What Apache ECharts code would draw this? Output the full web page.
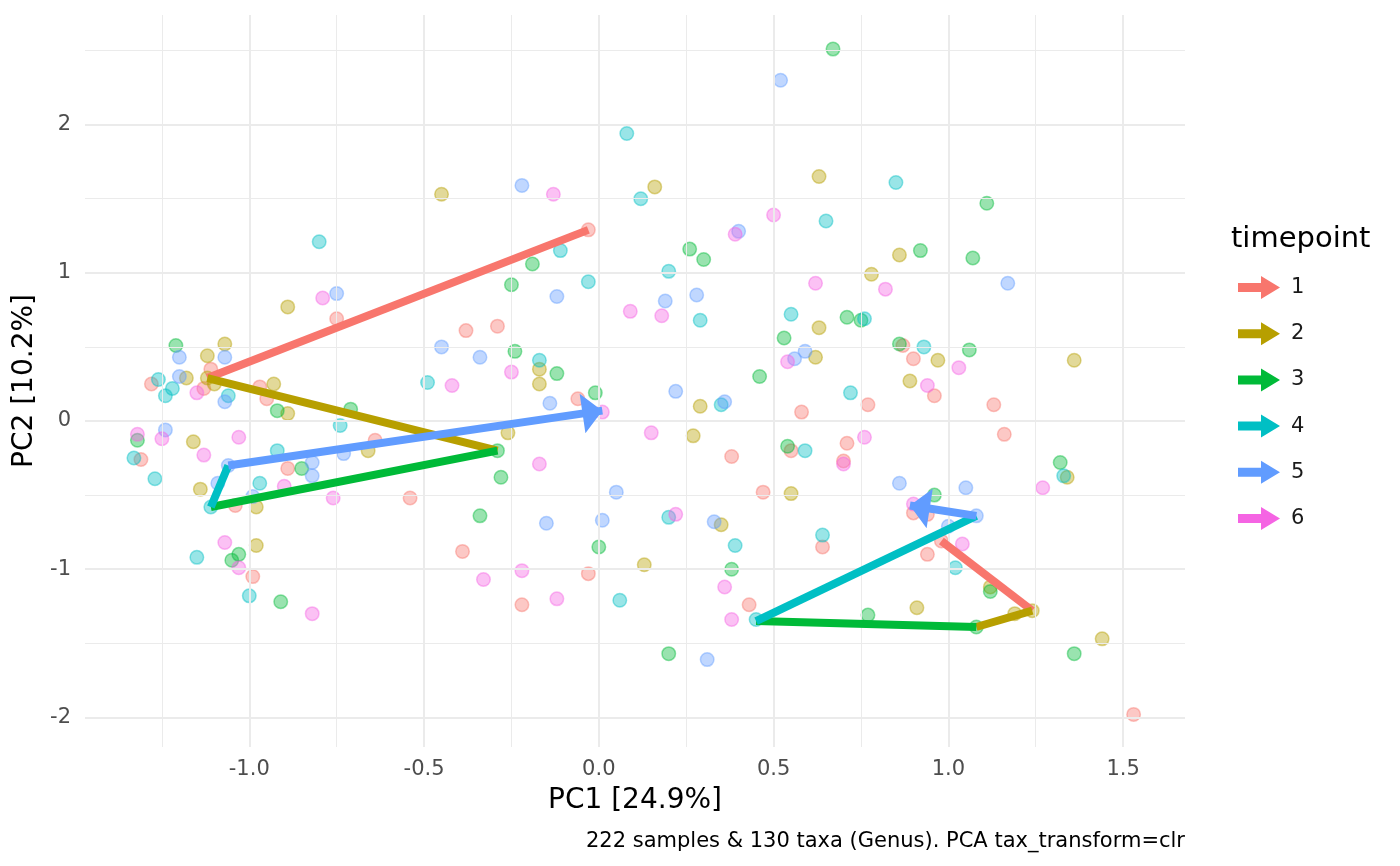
<!DOCTYPE html>
<html>
<head>
<meta charset="utf-8">
<title>PCA timepoint</title>
<script src="https://cdn.jsdelivr.net/npm/echarts@6/dist/echarts.min.js"></script>
<style>
  html, body { margin: 0; padding: 0; background: #fff; }
  #chart { width: 1400px; height: 866px; }
</style>
</head>
<body>
<div id="chart"></div>
<script>
// timepoint colours (ggplot hue palette)
const timepoints = ['1', '2', '3', '4', '5', '6'];
const colors = ['#F8766D', '#B79F00', '#00BA38', '#00BFC4', '#619CFF', '#F564E3'];

// sample scores, one pair of arrays per timepoint
const redX = [-0.75, -1.11, -1.28, -1.13, -0.97, -0.95, -1.31, -0.64, -0.89, -0.54, -1.04, -0.99, -0.03, -0.38, -0.29, -0.06, 0.38, -0.39, -0.03, -0.22, 0.43, 0.87, 0.90, 0.96, 1.13, 0.58, 0.77, 1.16, 0.55, 0.71, 0.70, 0.47, 0.90, 0.94, 0.64, 0.98, 0.94, 1.53];
const redY = [0.69, 0.35, 0.25, 0.22, 0.23, 0.15, -0.26, -0.13, -0.32, -0.52, -0.57, -1.05, 1.29, 0.61, 0.64, 0.15, -0.24, -0.88, -1.03, -1.24, -1.24, 0.51, 0.42, 0.17, 0.11, 0.06, 0.11, -0.09, -0.20, -0.15, -0.27, -0.48, -0.62, -0.63, -0.85, -0.81, -0.90, -1.98];
const oliveX = [-0.89, -1.07, -1.12, -1.18, -1.12, -1.10, -0.93, -0.89, -1.16, -0.66, -1.14, -0.98, -0.98, -0.45, 0.16, -0.17, -0.17, -0.26, 0.29, 0.27, 0.35, 0.13, 0.63, 0.86, 0.78, 0.63, 0.62, 0.97, 0.89, 0.55, 1.36, 1.34, 0.91, 1.12, 1.19, 1.24, 1.44];
const oliveY = [0.77, 0.52, 0.44, 0.29, 0.29, 0.25, 0.25, 0.05, -0.14, -0.20, -0.46, -0.58, -0.84, 1.53, 1.58, 0.35, 0.25, -0.08, 0.10, -0.10, -0.70, -0.97, 1.65, 1.12, 0.99, 0.63, 0.43, 0.41, 0.27, -0.49, 0.41, -0.38, -1.26, -1.12, -1.30, -1.28, -1.47];
const greenX = [-1.21, -0.92, -0.71, -1.32, -0.85, -1.03, -1.05, -0.91, -0.19, -0.25, -0.24, -0.12, -0.01, -0.29, -0.28, -0.34, 0.00, 0.38, 0.67, 1.11, 0.26, 0.30, 0.92, 1.07, 0.71, 0.75, 0.53, 0.86, 1.06, 0.46, 0.54, 0.96, 1.12, 1.08, 0.77, 0.20, 1.32, 1.36];
const greenY = [0.51, 0.07, 0.08, -0.13, -0.32, -0.90, -0.94, -1.22, 1.06, 0.92, 0.47, 0.32, 0.19, -0.20, -0.38, -0.64, -0.85, -1.00, 2.51, 1.47, 1.16, 1.09, 1.15, 1.10, 0.70, 0.68, 0.56, 0.52, 0.48, 0.30, -0.17, -0.50, -1.15, -1.39, -1.31, -1.57, -0.28, -1.57];
const tealX = [-1.26, -1.22, -1.24, -1.06, -0.49, -0.74, -1.33, -1.27, -0.92, -0.97, -1.11, -1.15, -1.00, -0.80, -0.11, -0.03, -0.17, 0.12, 0.20, 0.08, 0.35, 0.20, 0.39, 0.06, 0.85, 0.65, 0.29, 0.55, 0.76, 0.93, 0.72, 0.59, 0.64, 1.02, 0.45, 1.33];
const tealY = [0.28, 0.22, 0.17, 0.17, 0.26, -0.03, -0.25, -0.39, -0.20, -0.42, -0.58, -0.92, -1.18, 1.21, 1.15, 0.94, 0.41, 1.50, 1.01, 1.94, 0.11, -0.65, -0.84, -1.21, 1.61, 1.35, 0.68, 0.72, 0.69, 0.50, 0.19, -0.20, -0.77, -0.99, -1.34, -0.37];
const blueX = [-0.75, -0.45, -1.20, -1.07, -1.20, -1.07, -1.24, -0.73, -1.06, -0.82, -0.82, -1.09, -0.99, -0.22, -0.12, -0.34, 0.19, -0.14, 0.22, 0.36, 0.05, -0.15, 0.01, 0.33, 0.40, 0.28, 1.17, 0.59, 0.56, 0.86, 1.05, 1.08, 1.00, 0.52, 0.31];
const blueY = [0.86, 0.50, 0.43, 0.43, 0.30, 0.13, -0.06, -0.22, -0.30, -0.28, -0.37, -0.42, -0.51, 1.59, 0.84, 0.43, 0.81, 0.12, 0.20, 0.13, -0.48, -0.69, -0.67, -0.68, 1.28, 0.85, 0.93, 0.47, 0.42, -0.42, -0.45, -0.64, -0.71, 2.30, -1.61];
const pinkX = [-0.79, -1.15, -0.42, -1.32, -1.25, -1.03, -1.13, -0.90, -0.76, -1.07, -1.03, -0.82, -0.13, -0.25, 0.09, 0.18, 0.01, 0.15, -0.17, 0.22, -0.33, -0.22, -0.12, 0.36, 0.38, 0.50, 0.39, 0.62, 0.82, 0.54, 1.03, 0.94, 0.76, 0.70, 0.90, 1.04, 1.27];
const pinkY = [0.83, 0.19, 0.24, -0.09, -0.12, -0.11, -0.23, -0.44, -0.52, -0.82, -0.99, -1.30, 1.53, 0.33, 0.74, 0.71, 0.06, -0.08, -0.29, -0.63, -1.07, -1.01, -1.20, -1.12, -1.34, 1.39, 1.26, 0.93, 0.89, 0.40, 0.36, 0.24, -0.11, -0.29, -0.56, -0.83, -0.45];

// centroid paths, timepoint 1 -> 6
const pathAX = [-0.03, -1.12, -0.29, -1.11, -1.06, 0.01];
const pathAY = [1.29, 0.29, -0.20, -0.58, -0.30, 0.07];
const pathBX = [0.98, 1.24, 1.08, 0.45, 1.08, 0.89];
const pathBY = [-0.81, -1.28, -1.39, -1.35, -0.64, -0.57];

// axis ticks and grid
const xTicks = [-1.0, -0.5, 0.0, 0.5, 1.0, 1.5];
const xMinor = [-1.25, -0.75, -0.25, 0.25, 0.75, 1.25];
const yTicks = [-2, -1, 0, 1, 2];
const yMinor = [-1.5, -0.5, 0.5, 1.5, 2.5];

const caption = '222 samples & 130 taxa (Genus). PCA tax_transform=clr';
const font = 'DejaVu Sans';

// arrow head with its tip in the middle of the symbol box, so the tip sits on the end point
const arrowHead = 'path://M10,0L10.01,0L10,0.01ZM10,20L20,40L0,40Z';

function rgba(hex, a) {
  const n = parseInt(hex.slice(1), 16);
  return `rgba(${(n >> 16) & 255}, ${(n >> 8) & 255}, ${n & 255}, ${a})`;
}

const xs = [redX, oliveX, greenX, tealX, blueX, pinkX];
const ys = [redY, oliveY, greenY, tealY, blueY, pinkY];

const pointSeries = timepoints.map((tp, i) => ({
  type: 'scatter',
  name: tp,
  z: 2,
  symbolSize: 13.5,
  itemStyle: {
    color: rgba(colors[i], 0.5),
    borderColor: rgba(colors[i], 0.55),
    borderWidth: 1.5
  },
  data: xs[i].map((x, j) => [x, ys[i][j]])
}));

// path segments coloured by the timepoint they start from
const segments = [], arrows = [];
[[pathAX, pathAY], [pathBX, pathBY]].forEach(([px, py]) => {
  for (let k = 0; k < px.length - 1; k++) {
    const item = {
      coords: [[px[k], py[k]], [px[k + 1], py[k + 1]]],
      lineStyle: { color: colors[k] }
    };
    if (k === px.length - 2) arrows.push(item);
    else segments.push(item);
  }
});

const gridLines = [
  ...xTicks.map(v => ({ xAxis: v, lineStyle: { width: 2 } })),
  ...xMinor.map(v => ({ xAxis: v, lineStyle: { width: 1 } })),
  ...yTicks.map(v => ({ yAxis: v, lineStyle: { width: 2 } })),
  ...yMinor.map(v => ({ yAxis: v, lineStyle: { width: 1 } }))
];

const chart = echarts.init(document.getElementById('chart'), null, { renderer: 'canvas' });

const option = {
  animation: false,
  backgroundColor: '#fff',
  textStyle: { fontFamily: font },
  title: [
    {
      text: 'timepoint', left: 1226, top: 220,
      textStyle: { fontFamily: font, fontSize: 29, fontWeight: 'normal', color: '#000' }
    },
    {
      text: caption, right: 210, top: 826,
      textStyle: { fontFamily: font, fontSize: 21, fontWeight: 'normal', color: '#000' }
    }
  ],
  legend: {
    orient: 'vertical',
    left: 1233,
    top: 271,
    itemWidth: 42,
    itemHeight: 23,
    itemGap: 23.2,
    icon: 'path://M0,7L23,7L23,0L42,11.5L23,23L23,16L0,16Z',
    textStyle: { fontFamily: font, fontSize: 21, color: '#1a1a1a', padding: [0, 0, 0, 6] },
    data: timepoints.map((tp, i) => ({ name: tp, itemStyle: { color: colors[i], opacity: 1, borderWidth: 0 } }))
  },
  grid: { left: 85, right: 215, top: 15, bottom: 119, containLabel: false },
  xAxis: {
    type: 'value',
    min: -1.47,
    max: 1.677,
    name: 'PC1 [24.9%]',
    nameLocation: 'middle',
    nameGap: 40,
    nameTextStyle: { fontFamily: font, fontSize: 28, color: '#000' },
    axisLine: { show: false },
    axisTick: { show: false },
    splitLine: { show: false },
    axisLabel: {
      customValues: xTicks,
      formatter: v => v.toFixed(1),
      fontFamily: font, fontSize: 21, color: '#4D4D4D', margin: 12
    }
  },
  yAxis: {
    type: 'value',
    min: -2.2,
    max: 2.74,
    name: 'PC2 [10.2%]',
    nameLocation: 'middle',
    nameRotate: 90,
    nameGap: 44,
    nameTextStyle: { fontFamily: font, fontSize: 28, color: '#000' },
    axisLine: { show: false },
    axisTick: { show: false },
    splitLine: { show: false },
    axisLabel: {
      customValues: yTicks,
      formatter: v => String(v),
      fontFamily: font, fontSize: 21, color: '#4D4D4D', margin: 14
    }
  },
  series: [
    {
      type: 'line',
      name: 'grid',
      z: 0,
      data: [],
      silent: true,
      markLine: {
        silent: true,
        symbol: 'none',
        label: { show: false },
        lineStyle: { color: '#EBEBEB', type: 'solid' },
        data: gridLines
      }
    },
    ...pointSeries,
    {
      type: 'lines',
      coordinateSystem: 'cartesian2d',
      z: 5,
      lineStyle: { width: 8, opacity: 1, cap: 'butt' },
      data: segments
    },
    {
      type: 'lines',
      coordinateSystem: 'cartesian2d',
      z: 6,
      symbol: ['none', arrowHead],
      symbolSize: [21, 40],
      lineStyle: { width: 8, opacity: 1, cap: 'butt' },
      data: arrows
    }
  ]
};

chart.setOption(option);
</script>
</body>
</html>
